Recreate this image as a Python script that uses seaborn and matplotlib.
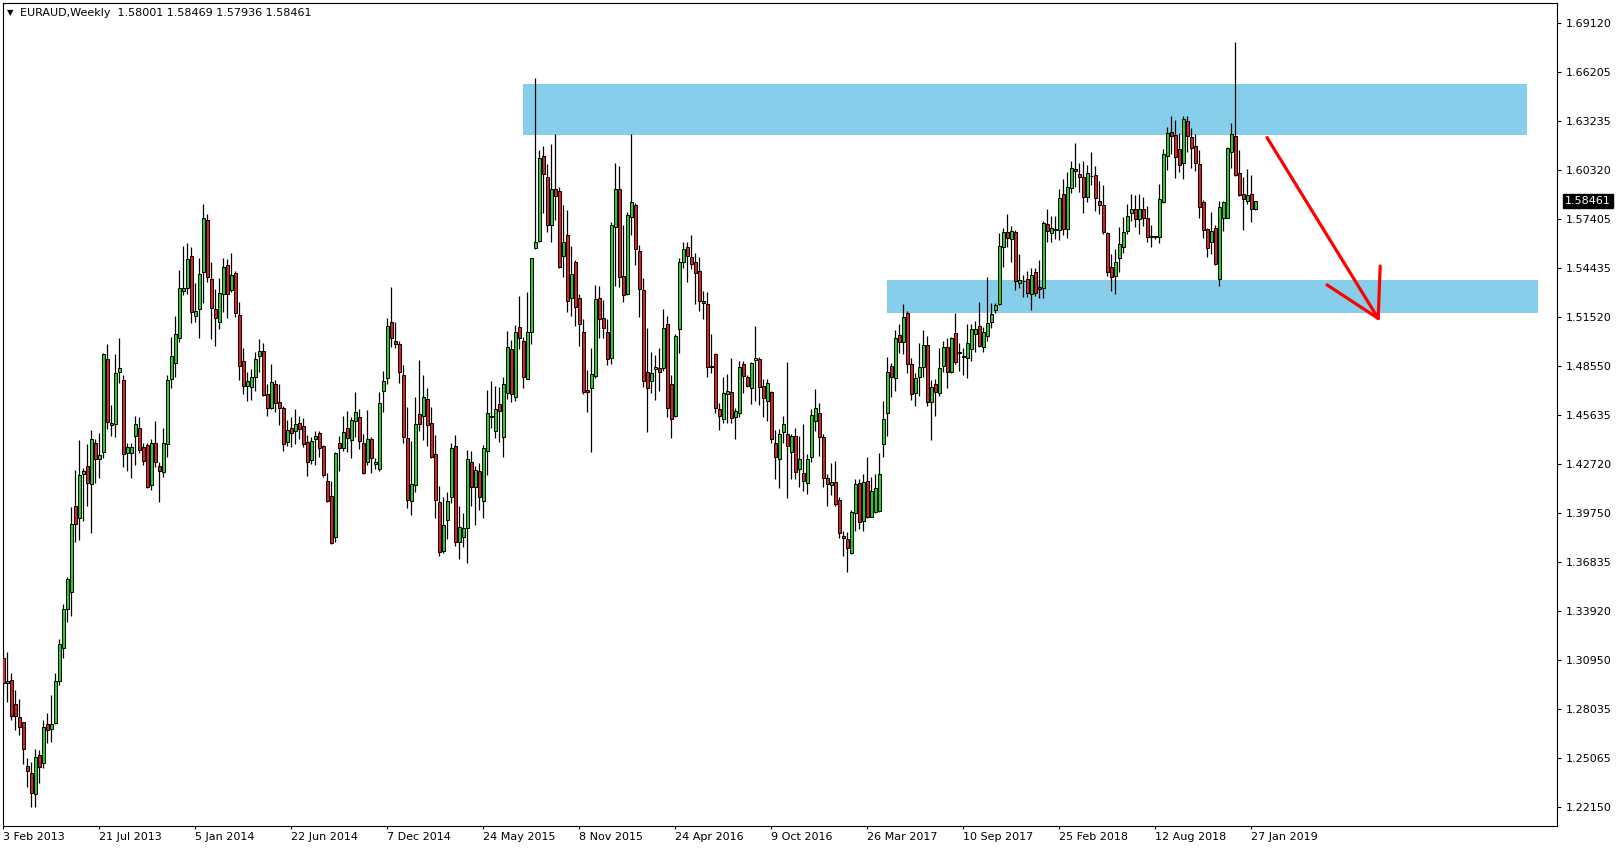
import numpy as np
import pandas as pd
import matplotlib
matplotlib.use("Agg")
import matplotlib.pyplot as plt
import seaborn as sns
from matplotlib.patches import Rectangle
from matplotlib.transforms import blended_transform_factory

# ---------------- data ----------------
title = "EURAUD,Weekly  1.58001 1.58469 1.57936 1.58461"
last_price = 1.58461

opens = [
    1.3106, 1.2956, 1.2976, 1.2830, 1.2753, 1.2723, 1.2461, 1.2417, 1.2293, 1.2527,
    1.2477, 1.2711, 1.2681, 1.2721, 1.2968, 1.3166, 1.3403, 1.3505, 1.4019, 1.3945,
    1.4208, 1.4258, 1.4148, 1.4394, 1.4298, 1.4340, 1.4899, 1.4514, 1.4508, 1.4819,
    1.4771, 1.4334, 1.4334, 1.4440, 1.4484, 1.4370, 1.4382, 1.4144, 1.4394, 1.4258,
    1.4220, 1.4388, 1.4777, 1.4873, 1.5023, 1.5308, 1.5322, 1.5514, 1.5159, 1.5197,
    1.5422, 1.5732, 1.5376, 1.5197, 1.5119, 1.5287, 1.5462, 1.5312, 1.5416, 1.5163,
    1.4887, 1.4739, 1.4733, 1.4789, 1.4919, 1.4947, 1.4689, 1.4603, 1.4749, 1.4639,
    1.4603, 1.4404, 1.4484, 1.4470, 1.4516, 1.4498, 1.4404, 1.4292, 1.4420, 1.4458,
    1.4378, 1.4170, 1.4078, 1.3831, 1.4394, 1.4364, 1.4484, 1.4414, 1.4528, 1.4550,
    1.4394, 1.4280, 1.4418, 1.4268, 1.4238, 1.4707, 1.4783, 1.5119, 1.5007, 1.4987,
    1.4803, 1.4424, 1.4048, 1.4144, 1.4568, 1.4558, 1.4657, 1.4514, 1.4328, 1.4044,
    1.3749, 1.3935, 1.4074, 1.4378, 1.3801, 1.3835, 1.3885, 1.4280, 1.4130, 1.4228,
    1.4048, 1.4348, 1.4552, 1.4468, 1.4628, 1.4434, 1.4693, 1.4959, 1.4669, 1.5089,
    1.5007, 1.4779, 1.5059, 1.5562, 1.5606, 1.6115, 1.5991, 1.5702, 1.5916, 1.5906,
    1.5516, 1.5642, 1.5262, 1.5478, 1.5262, 1.5059, 1.4713, 1.4723, 1.4799, 1.5266,
    1.5143, 1.5059, 1.4903, 1.5688, 1.5916, 1.5398, 1.5288, 1.5752, 1.5822, 1.5548,
    1.5312, 1.4823, 1.4769, 1.4837, 1.4843, 1.4847, 1.5107, 1.4747, 1.4560, 1.5077,
    1.5482, 1.5568, 1.5512, 1.5478, 1.5426, 1.5247, 1.5229, 1.4857, 1.4929, 1.4598,
    1.4538, 1.4687, 1.4699, 1.4554, 1.4578, 1.4869, 1.4793, 1.4727, 1.4895, 1.4899,
    1.4737, 1.4649, 1.4703, 1.4394, 1.4298, 1.4460, 1.4448, 1.4344, 1.4438, 1.4238,
    1.4214, 1.4154, 1.4314, 1.4528, 1.4574, 1.4430, 1.4184, 1.4144, 1.4162, 1.4054,
    1.3839, 1.3821, 1.3739, 1.3974, 1.4158, 1.3930, 1.4168, 1.3954, 1.3984, 1.3988,
    1.4388, 1.4574, 1.4857, 1.4783, 1.5043, 1.5003, 1.5173, 1.4869, 1.4694, 1.4789,
    1.4853, 1.4983, 1.4643, 1.4749, 1.4697, 1.4859, 1.4969, 1.4823, 1.5053, 1.4935,
    1.4917, 1.4903, 1.4957, 1.5047, 1.5097, 1.4969, 1.5039, 1.5123, 1.5193, 1.5227,
    1.5568, 1.5658, 1.5616, 1.5662, 1.5352, 1.5364, 1.5376, 1.5286, 1.5418, 1.5328,
    1.5322, 1.5706, 1.5656, 1.5674, 1.5672, 1.5886, 1.5676, 1.5921, 1.6035, 1.6005,
    1.5987, 1.5868, 1.5993, 1.6001, 1.5848, 1.5822, 1.5652, 1.5448, 1.5398, 1.5502,
    1.5568, 1.5668, 1.5772, 1.5798, 1.5736, 1.5798, 1.5742, 1.5636, 1.5628, 1.5632,
    1.5842, 1.6117, 1.6257, 1.6241, 1.6155, 1.6071, 1.6325, 1.6227, 1.6175, 1.6067,
    1.5838, 1.5676, 1.5602, 1.5682, 1.5376, 1.5746, 1.5746, 1.6137, 1.6235, 1.6011,
    1.5888, 1.5848, 1.5886, 1.58001,
]

highs = [
    1.3156, 1.3146, 1.3016, 1.2916, 1.2862, 1.2727, 1.2507, 1.2487, 1.2561, 1.2557,
    1.2737, 1.2777, 1.2886, 1.3020, 1.3220, 1.3431, 1.3595, 1.4015, 1.4234, 1.4414,
    1.4244, 1.4390, 1.4474, 1.4420, 1.4454, 1.4937, 1.4989, 1.4624, 1.4927, 1.5023,
    1.4803, 1.4394, 1.4394, 1.4558, 1.4550, 1.4394, 1.4394, 1.4420, 1.4528, 1.4284,
    1.4488, 1.4803, 1.5033, 1.5159, 1.5432, 1.5576, 1.5592, 1.5572, 1.5352, 1.5502,
    1.5826, 1.5766, 1.5482, 1.5316, 1.5382, 1.5502, 1.5496, 1.5532, 1.5426, 1.5243,
    1.4967, 1.4819, 1.4837, 1.4943, 1.5017, 1.4993, 1.4749, 1.4869, 1.4773, 1.4749,
    1.4619, 1.4534, 1.4554, 1.4599, 1.4558, 1.4544, 1.4444, 1.4434, 1.4470, 1.4468,
    1.4384, 1.4214, 1.4170, 1.4344, 1.4438, 1.4558, 1.4588, 1.4554, 1.4699, 1.4598,
    1.4448, 1.4594, 1.4434, 1.4304, 1.4699, 1.4827, 1.5143, 1.5332, 1.5119, 1.5007,
    1.4863, 1.4614, 1.4410, 1.4669, 1.4893, 1.4803, 1.4723, 1.4610, 1.4444, 1.4138,
    1.4074, 1.4104, 1.4394, 1.4444, 1.4018, 1.3975, 1.4354, 1.4348, 1.4258, 1.4274,
    1.4384, 1.4713, 1.4767, 1.4739, 1.4733, 1.4793, 1.5067, 1.5013, 1.5103, 1.5279,
    1.5033, 1.5298, 1.5502, 1.6581, 1.6151, 1.6175, 1.6065, 1.6185, 1.6245, 1.5932,
    1.5822, 1.5792, 1.5576, 1.5492, 1.5286, 1.5139, 1.4833, 1.4967, 1.5342, 1.5336,
    1.5253, 1.5139, 1.5718, 1.6071, 1.6055, 1.5702, 1.5778, 1.6245, 1.5832, 1.5582,
    1.5382, 1.5087, 1.4939, 1.4923, 1.4967, 1.5199, 1.5157, 1.4803, 1.5049, 1.5502,
    1.5598, 1.5598, 1.5642, 1.5536, 1.5508, 1.5307, 1.5303, 1.5049, 1.4937, 1.4633,
    1.4793, 1.4809, 1.4907, 1.4604, 1.4887, 1.4887, 1.4803, 1.4879, 1.5097, 1.4909,
    1.4779, 1.4779, 1.4709, 1.4474, 1.4480, 1.4558, 1.4879, 1.4450, 1.4488, 1.4438,
    1.4508, 1.4330, 1.4599, 1.4719, 1.4637, 1.4448, 1.4210, 1.4278, 1.4288, 1.4074,
    1.3869, 1.3861, 1.3994, 1.4180, 1.4180, 1.4210, 1.4314, 1.4190, 1.4210, 1.4338,
    1.4647, 1.4913, 1.4873, 1.5073, 1.5107, 1.5229, 1.5187, 1.4903, 1.4817, 1.4993,
    1.5073, 1.5037, 1.4773, 1.4777, 1.4967, 1.5007, 1.5027, 1.5033, 1.5177, 1.4993,
    1.4963, 1.5109, 1.5109, 1.5127, 1.5243, 1.5089, 1.5388, 1.5233, 1.5232, 1.5656,
    1.5682, 1.5768, 1.5696, 1.5672, 1.5526, 1.5402, 1.5428, 1.5442, 1.5446, 1.5492,
    1.5726, 1.5798, 1.5756, 1.5756, 1.5918, 1.5977, 1.6021, 1.6085, 1.6195, 1.6071,
    1.6087, 1.6061, 1.6137, 1.6055, 1.5965, 1.5941, 1.5662, 1.5528, 1.5558, 1.5688,
    1.5752, 1.5826, 1.5888, 1.5882, 1.5886, 1.5868, 1.5816, 1.5702, 1.5636, 1.5947,
    1.6157, 1.6287, 1.6355, 1.6331, 1.6251, 1.6355, 1.6355, 1.6281, 1.6245, 1.6151,
    1.5852, 1.5686, 1.5778, 1.5702, 1.5846, 1.5846, 1.6167, 1.6315, 1.6800, 1.6151,
    1.5987, 1.6037, 1.6001, 1.58469,
]

lows = [
    1.2900, 1.2846, 1.2736, 1.2677, 1.2647, 1.2471, 1.2337, 1.2217, 1.2217, 1.2361,
    1.2447, 1.2597, 1.2607, 1.2711, 1.2946, 1.3106, 1.3325, 1.3361, 1.3805, 1.3815,
    1.3931, 1.4020, 1.3855, 1.4158, 1.4184, 1.4304, 1.4478, 1.4440, 1.4434, 1.4753,
    1.4254, 1.4228, 1.4184, 1.4264, 1.4334, 1.4264, 1.4124, 1.4114, 1.4254, 1.4044,
    1.4194, 1.4314, 1.4723, 1.4793, 1.5003, 1.5282, 1.5286, 1.5113, 1.5123, 1.5027,
    1.5233, 1.5358, 1.5017, 1.4979, 1.5079, 1.5179, 1.5143, 1.5302, 1.5153, 1.4773,
    1.4689, 1.4647, 1.4653, 1.4709, 1.4823, 1.4677, 1.4560, 1.4597, 1.4584, 1.4504,
    1.4350, 1.4378, 1.4374, 1.4390, 1.4420, 1.4370, 1.4200, 1.4270, 1.4264, 1.4314,
    1.4190, 1.4044, 1.3791, 1.3801, 1.4230, 1.4350, 1.4340, 1.4308, 1.4434, 1.4358,
    1.4210, 1.4264, 1.4218, 1.4240, 1.4230, 1.4584, 1.4747, 1.4973, 1.4967, 1.4757,
    1.4394, 1.4004, 1.3964, 1.4104, 1.4470, 1.4414, 1.4380, 1.4308, 1.3945, 1.3721,
    1.3735, 1.3819, 1.4034, 1.3781, 1.3699, 1.3775, 1.3675, 1.4018, 1.3905, 1.3995,
    1.3945, 1.4204, 1.4484, 1.4424, 1.4400, 1.4314, 1.4659, 1.4643, 1.4649, 1.4959,
    1.4723, 1.4779, 1.4987, 1.5558, 1.5598, 1.5772, 1.5658, 1.5598, 1.5732, 1.5446,
    1.5392, 1.5183, 1.5159, 1.5099, 1.4979, 1.4687, 1.4583, 1.4344, 1.4787, 1.5027,
    1.5023, 1.4863, 1.4867, 1.5338, 1.5332, 1.5243, 1.5282, 1.5642, 1.5462, 1.5153,
    1.4733, 1.4464, 1.4693, 1.4653, 1.4709, 1.4829, 1.4550, 1.4424, 1.4554, 1.4933,
    1.5442, 1.5362, 1.5436, 1.5229, 1.5189, 1.5137, 1.4793, 1.4817, 1.4578, 1.4474,
    1.4514, 1.4518, 1.4514, 1.4418, 1.4550, 1.4693, 1.4729, 1.4627, 1.4649, 1.4624,
    1.4554, 1.4530, 1.4394, 1.4178, 1.4124, 1.4394, 1.4068, 1.4178, 1.4178, 1.4134,
    1.4108, 1.4088, 1.4284, 1.4468, 1.4318, 1.4134, 1.4020, 1.4084, 1.4020, 1.3829,
    1.3721, 1.3621, 1.3729, 1.3870, 1.3880, 1.3870, 1.3944, 1.3950, 1.3974, 1.3980,
    1.4314, 1.4440, 1.4669, 1.4709, 1.4933, 1.4927, 1.4817, 1.4653, 1.4619, 1.4679,
    1.4793, 1.4619, 1.4414, 1.4560, 1.4679, 1.4819, 1.4727, 1.4813, 1.4867, 1.4829,
    1.4803, 1.4787, 1.4889, 1.4943, 1.4973, 1.4943, 1.5009, 1.5083, 1.5177, 1.5223,
    1.5452, 1.5572, 1.5482, 1.5312, 1.5322, 1.5272, 1.5268, 1.5193, 1.5278, 1.5262,
    1.5262, 1.5602, 1.5602, 1.5616, 1.5612, 1.5642, 1.5622, 1.5891, 1.5931, 1.5901,
    1.5772, 1.5838, 1.5941, 1.5786, 1.5768, 1.5646, 1.5398, 1.5306, 1.5286, 1.5422,
    1.5536, 1.5648, 1.5728, 1.5692, 1.5648, 1.5698, 1.5598, 1.5572, 1.5616, 1.5596,
    1.5836, 1.6031, 1.6127, 1.5985, 1.6021, 1.5977, 1.6137, 1.6045, 1.6027, 1.5742,
    1.5626, 1.5512, 1.5526, 1.5462, 1.5338, 1.5668, 1.5742, 1.6045, 1.5997, 1.5878,
    1.5672, 1.5826, 1.5718, 1.57936,
]

closes = [
    1.2956, 1.2970, 1.2762, 1.2762, 1.2693, 1.2561, 1.2433, 1.2297, 1.2513, 1.2457,
    1.2693, 1.2677, 1.2711, 1.2970, 1.3192, 1.3400, 1.3581, 1.3911, 1.3911, 1.4204,
    1.4228, 1.4154, 1.4420, 1.4298, 1.4324, 1.4929, 1.4520, 1.4506, 1.4813, 1.4843,
    1.4328, 1.4374, 1.4370, 1.4508, 1.4354, 1.4290, 1.4134, 1.4394, 1.4280, 1.4230,
    1.4394, 1.4773, 1.4915, 1.5047, 1.5322, 1.5322, 1.5496, 1.5179, 1.5187, 1.5406,
    1.5742, 1.5392, 1.5207, 1.5143, 1.5293, 1.5448, 1.5286, 1.5402, 1.5177, 1.4857,
    1.4739, 1.4767, 1.4789, 1.4899, 1.4947, 1.4683, 1.4607, 1.4759, 1.4637, 1.4607,
    1.4388, 1.4474, 1.4458, 1.4510, 1.4478, 1.4388, 1.4284, 1.4408, 1.4440, 1.4364,
    1.4204, 1.4050, 1.3799, 1.4334, 1.4364, 1.4460, 1.4424, 1.4534, 1.4584, 1.4410,
    1.4214, 1.4418, 1.4304, 1.4280, 1.4634, 1.4769, 1.5099, 1.5023, 1.4987, 1.4823,
    1.4430, 1.4054, 1.4148, 1.4508, 1.4508, 1.4669, 1.4504, 1.4314, 1.4054, 1.3741,
    1.3905, 1.4048, 1.4364, 1.3801, 1.3895, 1.3885, 1.4298, 1.4130, 1.4234, 1.4074,
    1.4364, 1.4574, 1.4554, 1.4598, 1.4588, 1.4747, 1.4969, 1.4687, 1.5059, 1.5023,
    1.4789, 1.5059, 1.5502, 1.5598, 1.6105, 1.6005, 1.5702, 1.5916, 1.5878, 1.5452,
    1.5602, 1.5248, 1.5406, 1.5213, 1.5107, 1.4703, 1.4703, 1.4807, 1.5257, 1.5137,
    1.5083, 1.4897, 1.5702, 1.5916, 1.5388, 1.5282, 1.5762, 1.5838, 1.5556, 1.5316,
    1.4769, 1.4723, 1.4813, 1.4853, 1.4823, 1.5083, 1.4604, 1.4538, 1.5037, 1.5478,
    1.5558, 1.5518, 1.5466, 1.5412, 1.5249, 1.5237, 1.4849, 1.4849, 1.4604, 1.4560,
    1.4693, 1.4705, 1.4544, 1.4588, 1.4849, 1.4799, 1.4739, 1.4873, 1.4903, 1.4733,
    1.4667, 1.4753, 1.4418, 1.4310, 1.4448, 1.4508, 1.4378, 1.4438, 1.4224, 1.4298,
    1.4170, 1.4298, 1.4564, 1.4604, 1.4430, 1.4184, 1.4148, 1.4162, 1.4028, 1.3855,
    1.3829, 1.3765, 1.3984, 1.4148, 1.3924, 1.4160, 1.3950, 1.4108, 1.4124, 1.4210,
    1.4538, 1.4823, 1.4789, 1.5023, 1.5003, 1.5149, 1.4867, 1.4688, 1.4783, 1.4849,
    1.4983, 1.4643, 1.4729, 1.4703, 1.4843, 1.4969, 1.4823, 1.5023, 1.4879, 1.4939,
    1.4909, 1.4993, 1.5079, 1.5079, 1.4977, 1.5059, 1.5113, 1.5167, 1.5222, 1.5576,
    1.5658, 1.5622, 1.5668, 1.5368, 1.5370, 1.5366, 1.5296, 1.5402, 1.5292, 1.5316,
    1.5712, 1.5668, 1.5682, 1.5676, 1.5862, 1.5676, 1.5928, 1.6041, 1.6027, 1.5991,
    1.5872, 1.6011, 1.5995, 1.5862, 1.5822, 1.5662, 1.5422, 1.5392, 1.5482, 1.5586,
    1.5658, 1.5758, 1.5798, 1.5736, 1.5798, 1.5742, 1.5632, 1.5628, 1.5630, 1.5856,
    1.6125, 1.6251, 1.6237, 1.6111, 1.6061, 1.6337, 1.6237, 1.6161, 1.6075, 1.5812,
    1.5672, 1.5562, 1.5666, 1.5466, 1.5812, 1.5838, 1.6161, 1.6245, 1.6001, 1.5882,
    1.5856, 1.5882, 1.5796, 1.58461,
]

x_tick_bars = [0, 24, 48, 72, 96, 120, 144, 168, 192, 216, 240, 264, 288, 312]
x_tick_labels = ["3 Feb 2013", "21 Jul 2013", "5 Jan 2014", "22 Jun 2014", "7 Dec 2014",
                 "24 May 2015", "8 Nov 2015", "24 Apr 2016", "9 Oct 2016", "26 Mar 2017",
                 "10 Sep 2017", "25 Feb 2018", "12 Aug 2018", "27 Jan 2019"]
y_ticks = [1.69120, 1.66205, 1.63235, 1.60320, 1.57405, 1.54435, 1.51520, 1.48550,
           1.45635, 1.42720, 1.39750, 1.36835, 1.33920, 1.30950, 1.28035, 1.25065, 1.22150]

# resistance / support zones: (first bar, last bar, low price, high price)
zone_resistance = (129.9, 380.9, 1.6241, 1.6547)
zone_support = (220.9, 383.7, 1.5177, 1.5372)
# hand-drawn arrow (bar, price)
arrow_shaft = [(315.9, 1.6226), (343.7, 1.5142)]
arrow_head_right = [(344.2, 1.5456), (343.7, 1.5142)]
arrow_head_left = [(330.9, 1.5343), (343.7, 1.5142)]

assert len(opens) == len(highs) == len(lows) == len(closes)

# ---------------- plot ----------------
sns.set_theme(style="white")
plt.rcParams['font.family'] = ['DejaVu Sans']

W, H = 1621, 850
fig = plt.figure(figsize=(W / 100, H / 100), dpi=100)
fig.patch.set_facecolor("white")
ax = fig.add_axes([2.5 / W, (H - 826) / H, (1557 - 2.5) / W, (826 - 3) / H])
ax.set_facecolor("white")

df = pd.DataFrame({"open": opens, "high": highs, "low": lows, "close": closes})
df["bar"] = np.arange(len(df))
df["bottom"] = df[["open", "close"]].min(axis=1)
df["height"] = (df["close"] - df["open"]).abs().clip(lower=0.0005)
bull, bear = "#1fd21f", "#e01e1e"
df["color"] = np.where(df["close"] > df["open"], bull,
                       np.where(df["close"] < df["open"], bear, "black"))

# zones
for z in (zone_resistance, zone_support):
    ax.add_patch(Rectangle((z[0], z[2]), z[1] - z[0], z[3] - z[2],
                           facecolor="#87ceeb", edgecolor="none", zorder=1))

# wicks and bodies
ax.vlines(df["bar"], df["low"], df["high"], color="black", linewidth=0.9, zorder=3)
ax.bar(df["bar"], df["height"], bottom=df["bottom"], width=0.62,
       color=df["color"], edgecolor="black", linewidth=0.7, zorder=4)

# arrow
for seg in (arrow_shaft, arrow_head_right, arrow_head_left):
    xs, ys = zip(*seg)
    ax.plot(xs, ys, color="#ff0000", linewidth=2.3, solid_capstyle="round", zorder=5)

ax.set_xlim(-0.2, 388.4)
ax.set_ylim(1.21012, 1.70318)

ax.yaxis.tick_right()
ax.set_yticks(y_ticks)
ax.set_yticklabels([f"{v:.5f}" for v in y_ticks])
ax.set_xticks(x_tick_bars)
ax.set_xticklabels(x_tick_labels)
for lab in ax.get_xticklabels():
    lab.set_ha("left")
ax.tick_params(axis="y", which="both", right=True, left=False, direction="out",
               length=3, width=0.8, pad=3, labelsize=8, colors="black")
ax.tick_params(axis="x", which="both", bottom=True, direction="out",
               length=2, width=0.8, pad=2, labelsize=8, colors="black")
for s in ax.spines.values():
    s.set_color("black")
    s.set_linewidth(0.8)
ax.grid(False)

# last price tag
trans = blended_transform_factory(ax.transAxes, ax.transData)
ax.annotate(f"{last_price:.5f}", xy=(1.0, last_price), xycoords=trans,
            xytext=(5.8, 0), textcoords="offset points", ha="left", va="center",
            fontsize=8, color="white", annotation_clip=False,
            bbox=dict(boxstyle="square,pad=0.2", fc="black", ec="black"))

# header
fig.text(7 / W, 1 - 12.5 / H, "\u25bc", fontsize=6, va="center", ha="left", color="black")
fig.text(20.5 / W, 1 - 12.5 / H, title, fontsize=8, va="center", ha="left", color="black")

fig.savefig("out.png", dpi=100, facecolor="white")
